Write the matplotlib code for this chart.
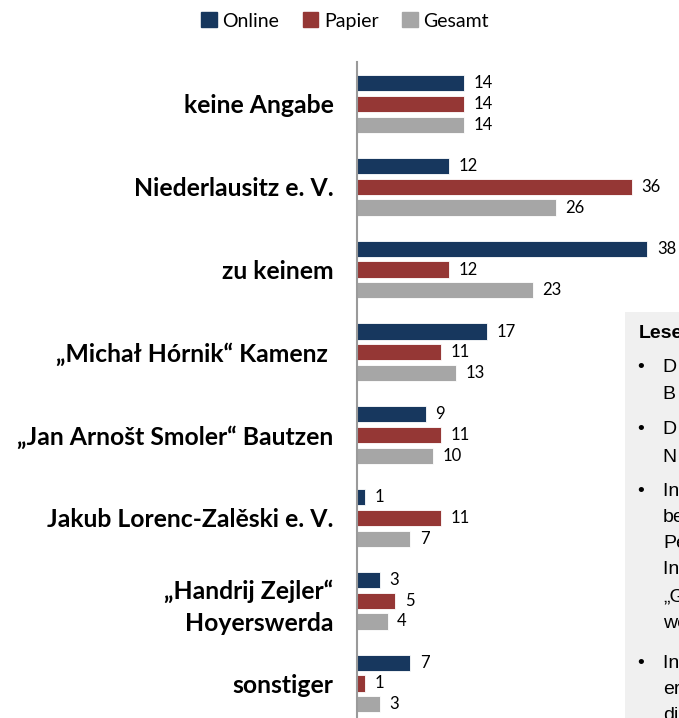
import matplotlib
matplotlib.use("Agg")
import matplotlib.pyplot as plt
import numpy as np
from matplotlib.patches import Rectangle

categories = ["keine Angabe", "Niederlausitz e. V.", "zu keinem",
              "„Michał Hórnik“ Kamenz ", "„Jan Arnošt Smoler“ Bautzen",
              "Jakub Lorenc-Zalěski e. V.", "„Handrij Zejler“\nHoyerswerda", "sonstiger"]
series_names = ["Online", "Papier", "Gesamt"]
online = [14, 12, 38, 17, 9, 1, 3, 7]
papier = [14, 36, 12, 11, 11, 11, 5, 1]
gesamt = [14, 26, 23, 13, 10, 7, 4, 3]
colors = ["#17375E", "#953735", "#A6A6A6"]

W, H = 679, 718
fig = plt.figure(figsize=(W / 100, H / 100), dpi=100)

def fx(px):
    return px / W

def fy(py):
    return 1 - py / H

ax = fig.add_axes([fx(357), fy(718), fx(679) - fx(357), fy(62) - fy(718)])
y = np.arange(len(categories))
off = 0.251
h = 0.195
for k, vals in enumerate([online, papier, gesamt]):
    pos = y + (k - 1) * off
    ax.barh(pos, vals, height=h, color=colors[k], label=series_names[k],
            edgecolor="white", linewidth=0.6)
    for p, v in zip(pos, vals):
        ax.text(v + 1.25, p, str(v), va="center", ha="left", fontsize=12,
                family="Lato", color="#000000")

ax.set_xlim(0, 322 / 7.64)
ax.set_ylim(7.417, -0.507)
ax.set_yticks(y)
ax.set_yticklabels(categories, fontsize=17.8, fontweight="bold", family="Lato",
                   linespacing=1.45)
ax.tick_params(axis="y", length=0, pad=17)
ax.set_xticks([])
for s in ["top", "right", "bottom"]:
    ax.spines[s].set_visible(False)
ax.spines["left"].set_color("#9A9A9A")
ax.spines["left"].set_linewidth(1.5)

handles = [Rectangle((0, 0), 1, 1, color=c) for c in colors]
fig.legend(handles, series_names, loc="center", bbox_to_anchor=(fx(345), fy(21)),
           ncol=3, frameon=False, prop={"family": "Lato", "size": 14},
           handlelength=0.8, handleheight=0.8, handletextpad=0.3, columnspacing=1.2)

# Info box on the right (cut off by the figure edge)
fig.patches.append(Rectangle((fx(625), fy(760)), fx(200), fy(312) - fy(760),
                             transform=fig.transFigure, facecolor="#F0F0F0",
                             edgecolor="none", zorder=5))
box_font = {"family": "Liberation Sans", "size": 14}
fig.text(fx(639), fy(333), "Lesebeispiel", fontweight="bold", va="center",
         zorder=6, **box_font)
bullets = [368, 430, 492, 663]
for py in bullets:
    fig.text(fx(637), fy(py), "•", va="center", zorder=6, **box_font)
lines = [(368, "D ie Werte"), (394, "B efragten"), (430, "D ie Werte"), (457, "N ennungen"),
         (492, "In der"), (518, "befragten"), (544, "Personen"), (570, "In der"),
         (597, "„Gesamt“"), (624, "werden"), (663, "In der"), (690, "erfasst"),
         (716, "die")]
for py, t in lines:
    fig.text(fx(663), fy(py), t, va="center", zorder=6, **box_font)

fig.savefig("out.png", dpi=100)
